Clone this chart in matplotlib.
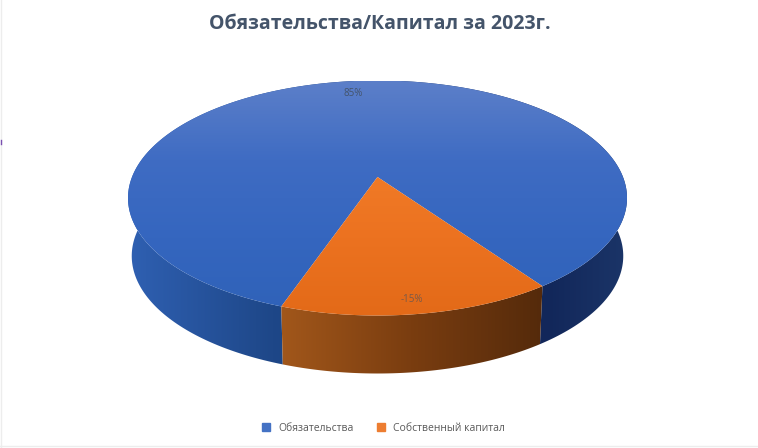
import numpy as np
import matplotlib
matplotlib.use('Agg')
import matplotlib.pyplot as plt
from matplotlib.colors import LinearSegmentedColormap
from matplotlib.lines import Line2D
from matplotlib.patches import Polygon

# data
categories = ['Обязательства', 'Собственный капитал']
shares = [85, 15]
share_labels = ['85%', '-15%']
title = 'Обязательства/Капитал за 2023г.'

# geometry of the tilted pie, in pixels
cx, cy = 377.5, 198
rx, ry = 249.5, 117.5
k = 21 / 117.5         # perspective, moves the pie centre up from the ellipse centre
depth = 58
shrink = 0.985
first_angle = -109

top_cols = [
    ['#5C7FC9', '#3F6CC3', '#3566BF', '#2F62B8'],
    ['#EF8E55', '#F17C28', '#EC7220', '#E36A18'],
]
wall_cols = ['#2F60B2', '#1E4788', '#12275A', '#1B3568']
wall_stops = [0.0, 0.29, 0.84, 1.0]
orange_wall_cols = ['#A3581B', '#7A3D10', '#542A0B']


def project(a):
    # point on the circle -> point on the screen
    u, v = np.cos(a), np.sin(a)
    x = cx + rx * np.sqrt(1 - k ** 2) * u / (1 + k * v)
    y = cy - ry * (v + k) / (1 + k * v)
    return x, y


def gradient(ax, colors, poly, vertical=True, x0=128, x1=628, y0=81, y1=316, stops=None):
    if stops is None:
        stops = np.linspace(0, 1, len(colors))
    cmap = LinearSegmentedColormap.from_list('g', list(zip(stops, colors)))
    g = np.linspace(0, 1, 256)
    g = g[:, None] if vertical else g[None, :]
    im = ax.imshow(g, cmap=cmap, extent=(x0, x1, y1, y0), aspect='auto', zorder=poly.get_zorder(),
                   interpolation='bilinear')
    ax.add_patch(poly)
    poly.set_facecolor('none')
    poly.set_edgecolor('none')
    im.set_clip_path(poly)


fig = plt.figure(figsize=(7.58, 4.48), dpi=100)
ax = fig.add_axes([0, 0, 1, 1])

fracs = np.array(shares) / sum(shares)
ends = first_angle - np.cumsum(fracs) * 360
starts = np.r_[first_angle, ends[:-1]]
centre = (cx, cy - ry * k)

# walls first, the top face covers whatever is at the back
for i, (a0, a1) in enumerate(zip(starts, ends)):
    a = np.radians(np.linspace(a0, a1, 300))
    x, y = project(a)
    xb = cx + (x - cx) * shrink
    yb = y + depth
    pts = np.r_[np.c_[x, y], np.c_[xb, yb][::-1]]
    poly = Polygon(pts, closed=True, zorder=2 + i)
    if i == 0:
        gradient(ax, wall_cols, poly, vertical=False, y0=81, y1=380, stops=wall_stops)
    else:
        gradient(ax, orange_wall_cols, poly, vertical=False, x0=276, x1=545, y0=81, y1=380)

for i, (a0, a1) in enumerate(zip(starts, ends)):
    a = np.radians(np.linspace(a0, a1, 300))
    x, y = project(a)
    pts = np.r_[[centre], np.c_[x, y]]
    poly = Polygon(pts, closed=True, zorder=5 + i)
    gradient(ax, top_cols[i], poly)

ax.text(353, 94, share_labels[0], fontsize=7, color='#44546A', ha='center', va='center', zorder=9,
        family='Open Sans')
ax.text(412, 299, share_labels[1], fontsize=7, color='#7A5A48', ha='center', va='center', zorder=9,
        family='Open Sans')

ax.set_xlim(0, 758)
ax.set_ylim(448, 0)
ax.axis('off')

# edges of the screenshot
ax.plot([1, 1], [0, 448], color='#EDEDED', lw=1, zorder=1)
ax.plot([0, 758], [446.5, 446.5], color='#EDEDED', lw=1, zorder=1)
ax.plot([0.5, 0.5], [140, 144], color='#7A50B0', lw=1, zorder=1)

fig.text(379.5 / 758, 1 - 24 / 448, title, fontsize=14, fontweight='bold', color='#44546A',
         ha='center', va='center', family='Open Sans')

handles = [Line2D([], [], marker='s', ls='none', ms=5.5, color=c) for c in ['#4472C4', '#ED7D31']]
fig.legend(handles, categories, loc='center', bbox_to_anchor=(380 / 758, 1 - 428 / 448), ncol=2,
           frameon=False, fontsize=7.5, labelcolor='#595959', handletextpad=0.2, columnspacing=1.6,
           prop={'family': 'Open Sans', 'size': 7.5})

fig.savefig('out.png', dpi=100)
